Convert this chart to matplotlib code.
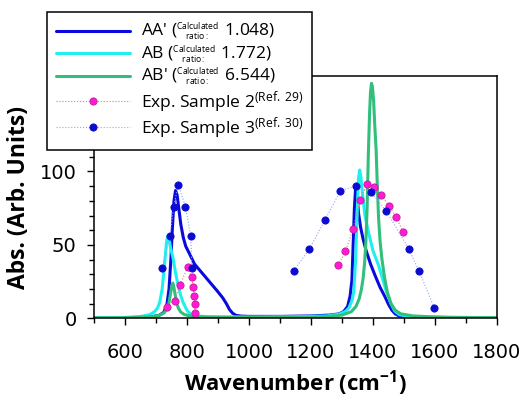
"""IR absorption: calculated spectra for three pair configurations vs. two experimental samples."""
import matplotlib
matplotlib.use("Agg")
import matplotlib.pyplot as plt
from matplotlib.ticker import MultipleLocator

plt.rcParams["font.family"] = ["Open Sans", "DejaVu Sans"]
plt.rcParams["mathtext.fontset"] = "custom"
plt.rcParams["mathtext.rm"] = "Open Sans"
plt.rcParams["mathtext.it"] = "Open Sans:italic"
plt.rcParams["mathtext.bf"] = "Open Sans:bold"

# ---- calculated spectra ----
aa_wn = [500, 600, 650, 690, 710, 725, 735, 742, 748, 753, 758, 763, 768, 774, 780, 788,
         796, 808, 824, 840, 860, 880, 900, 915, 927, 937, 947, 958, 975, 1000, 1100, 1200,
         1260, 1290, 1305, 1318, 1326, 1332, 1336, 1340, 1344, 1348, 1353, 1360, 1368, 1378,
         1392, 1407, 1423, 1439, 1450, 1461, 1472, 1485, 1510, 1560, 1650, 1800]
aa_val = [0.2, 0.4, 0.6, 1.2, 2, 4, 9, 20, 40, 62, 80, 87, 84, 74, 64, 55,
          49, 44, 37, 33, 28, 23, 18, 14, 10, 6, 3.5, 2, 1.5, 1.3, 1.3, 1.6,
          2.2, 3, 4.5, 8, 15, 26, 50, 75, 89, 86, 72, 62, 54, 46,
          37, 29, 21, 14.5, 9.5, 5.5, 3, 1.5, 0.8, 0.5, 0.3, 0.2]

ab_wn = [500, 600, 650, 680, 695, 705, 712, 720, 728, 734, 738, 742, 747, 755, 763, 771,
         779, 787, 795, 803, 815, 835, 870, 1000, 1150, 1250, 1290, 1310, 1322, 1332, 1338,
         1344, 1349, 1353, 1357, 1361, 1366, 1374, 1386, 1400, 1418, 1432, 1445, 1458, 1470,
         1485, 1510, 1560, 1650, 1800]
ab_val = [0.3, 0.6, 1.2, 2.5, 4.5, 7, 11, 20, 38, 52, 56, 54, 48, 41, 31, 23,
          16, 11, 7.5, 4.5, 2.5, 1.5, 1, 0.9, 1.1, 1.6, 2.8, 4.5, 7, 12, 18,
          40, 72, 95, 101, 96, 85, 70, 58, 46, 36, 26, 17, 10, 5,
          2.5, 1.3, 0.8, 0.5, 0.3]

abp_wn = [500, 600, 680, 710, 725, 735, 742, 747, 751, 754, 757, 761, 766, 772, 780, 792,
          815, 860, 950, 1100, 1200, 1250, 1300, 1330, 1345, 1355, 1362, 1368, 1373, 1377,
          1381, 1385, 1389, 1392, 1395, 1398, 1402, 1406, 1410, 1414, 1418, 1423, 1429, 1437,
          1446, 1458, 1472, 1490, 1530, 1580, 1650, 1800]
abp_val = [0.2, 0.4, 1, 2, 3.5, 6, 11, 17, 22, 24, 22, 17, 11, 7, 4.2, 2.5,
           1.4, 0.9, 0.6, 0.6, 0.8, 1.1, 2.2, 4.5, 8, 13, 19, 27, 38, 52,
           75, 112, 140, 154, 160, 158, 148, 130, 115, 90, 68, 52, 40, 28,
           18, 10, 5.5, 3, 1.6, 1.1, 0.7, 0.4]

calc_names = ["AA'", "AB", "AB'"]
calc_ratios = ["1.048", "1.772", "6.544"]

# ---- experimental points ----
exp2_low_wn = [735, 760, 778, 802, 815, 820, 823, 825, 826]
exp2_low_val = [8, 12, 23, 35, 28, 21.5, 15.5, 10, 3.5]
exp2_high_wn = [1288, 1311, 1335, 1359, 1381, 1404, 1427, 1450, 1474, 1497]
exp2_high_val = [36, 45.5, 60.5, 80.7, 91.6, 89.3, 84.3, 76.8, 69.3, 58.7]

exp3_low_wn = [720, 745, 757, 772, 795, 812, 816]
exp3_low_val = [34, 56, 76, 91, 76, 56, 34]
exp3_high_wn = [1145, 1195, 1245, 1295, 1345, 1393, 1443, 1515, 1548, 1598]
exp3_high_val = [32.5, 47.3, 66.8, 86.8, 90.2, 85.7, 73.2, 47.3, 32.5, 7]


def calc_label(name, ratio):
    return (name + " (" + r"$\genfrac{}{}{0}{2}{\mathrm{Calculated}}{\mathrm{ratio:}}$"
            + " " + ratio + ")")


fig = plt.figure(figsize=(5.25, 4.0), dpi=100)
ax = fig.add_axes([94 / 525, 81.7 / 400, 403 / 525, 242.3 / 400])

calc_colors = ["#0a0ade", "#1ef0f0", "#30c07c"]
for (wn, val), name, ratio, col in zip([(aa_wn, aa_val), (ab_wn, ab_val), (abp_wn, abp_val)],
                                       calc_names, calc_ratios, calc_colors):
    ax.plot(wn, val, color=col, lw=2.2, label=calc_label(name, ratio), solid_capstyle="round")

exp2_style = dict(color="#ff6a6a", lw=0.8, ls=":", marker="o", ms=5.2,
                  mfc="#ff1ad6", mec="#c8189a", mew=0.6)
exp3_style = dict(color="#8ea6ff", lw=0.8, ls=":", marker="o", ms=5.2,
                  mfc="#0a0ad0", mec="#0a0ad0", mew=0.6)
ax.plot(exp2_low_wn, exp2_low_val, label=r"Exp. Sample 2$^{\mathrm{(Ref.\ 29)}}$", **exp2_style)
ax.plot(exp2_high_wn, exp2_high_val, **exp2_style)
ax.plot(exp3_low_wn, exp3_low_val, label=r"Exp. Sample 3$^{\mathrm{(Ref.\ 30)}}$", **exp3_style)
ax.plot(exp3_high_wn, exp3_high_val, **exp3_style)

ax.set_xlim(500, 1800)
ax.set_ylim(0, 165)
ax.set_xticks(range(600, 1801, 200))
ax.set_yticks([0, 50, 100])
ax.xaxis.set_minor_locator(MultipleLocator(100))
ax.yaxis.set_minor_locator(MultipleLocator(10))
ax.tick_params(which="both", direction="out", width=1)
ax.tick_params(which="major", length=5)
ax.tick_params(which="minor", length=3.5)
ax.tick_params(axis="x", which="major", pad=12.5)
ax.tick_params(axis="y", which="major", pad=7.5)
for lab in ax.get_xticklabels() + ax.get_yticklabels():
    lab.set_fontfamily("DejaVu Sans")
    lab.set_fontsize(14)
for sp in ax.spines.values():
    sp.set_linewidth(1.1)

ax.set_xlabel(r"Wavenumber (cm$^{\mathbf{-1}}$)", fontsize=16, fontweight="bold", labelpad=5)
ax.set_ylabel("Abs. (Arb. Units)", fontsize=16.5, fontweight="bold", labelpad=6)

leg = ax.legend(loc="upper left", bbox_to_anchor=(47 / 525, 1 - 12 / 400),
                bbox_transform=fig.transFigure, borderaxespad=0, fontsize=12.5,
                handlelength=4.3, handletextpad=0.6, labelspacing=0.02, borderpad=0.5,
                fancybox=False, framealpha=1, edgecolor="black")
leg.get_frame().set_linewidth(1.1)

fig.savefig("out.png", dpi=100)
